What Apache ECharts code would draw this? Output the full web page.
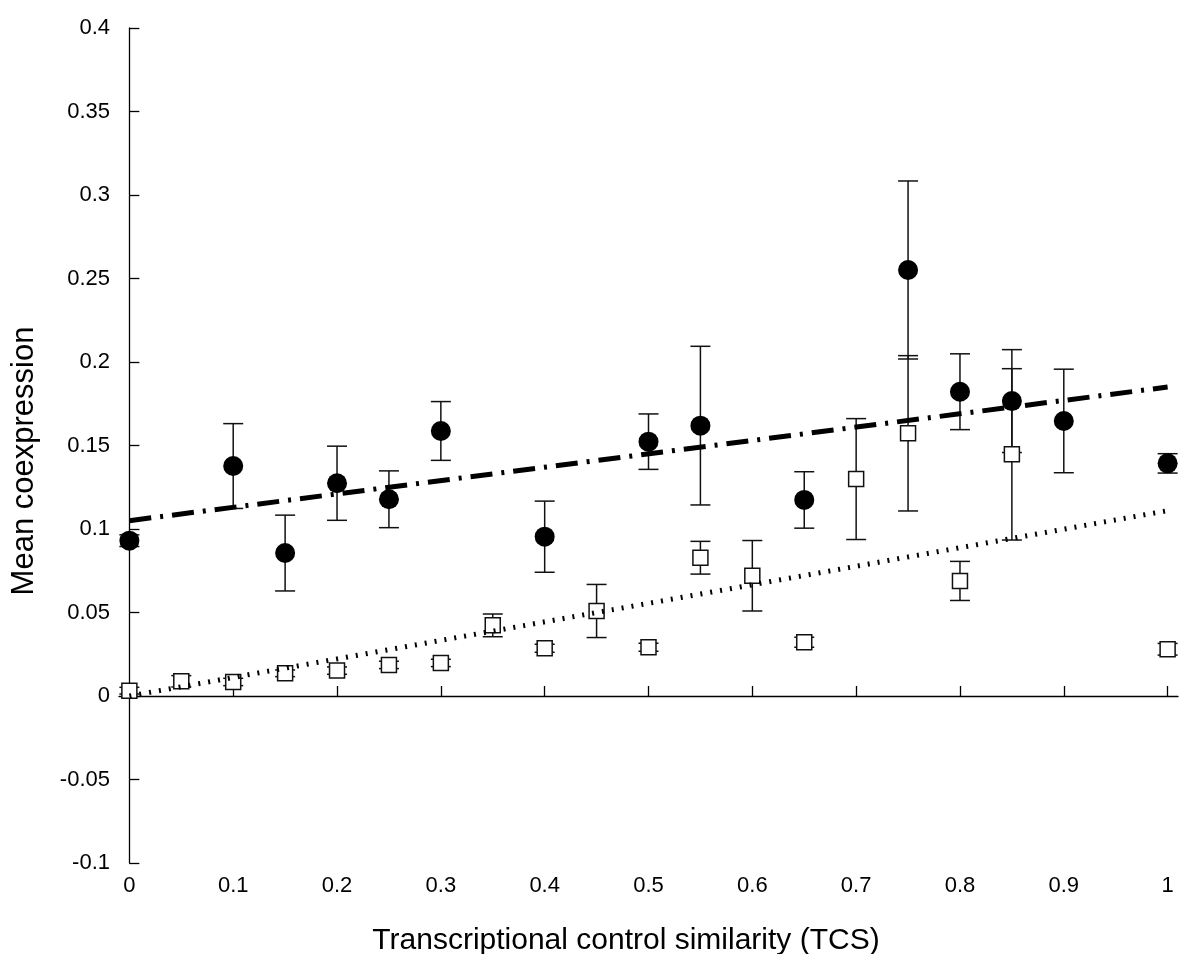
<!DOCTYPE html>
<html><head><meta charset="utf-8">
<script src="https://cdn.jsdelivr.net/npm/echarts@6/dist/echarts.min.js"></script>
<style>html,body{margin:0;padding:0;background:#fff}#c{width:1200px;height:954px}</style>
</head><body><div id="c"></div>
<script>
// ---- data ----
const xTickValues = [0, 0.1, 0.2, 0.3, 0.4, 0.5, 0.6, 0.7, 0.8, 0.9, 1];

const circleX   = [0, 0.1, 0.15, 0.2, 0.25, 0.3, 0.4, 0.5, 0.55, 0.65, 0.75, 0.8, 0.85, 0.9, 1.0];
const circleY   = [0.093, 0.1377, 0.0856, 0.1274, 0.1178, 0.1587, 0.0954, 0.1523, 0.1619, 0.1174, 0.2551, 0.1822, 0.1766, 0.1647, 0.1393];
const circleErr = [0.0035, 0.0254, 0.0227, 0.0222, 0.017, 0.0176, 0.0213, 0.0166, 0.0475, 0.0169, 0.0533, 0.0227, 0.0308, 0.031, 0.0058];

const squareX   = [0, 0.05, 0.1, 0.15, 0.2, 0.25, 0.3, 0.35, 0.4, 0.45, 0.5, 0.55, 0.6, 0.65, 0.7, 0.75, 0.8, 0.85, 1.0];
const squareY   = [0.0032, 0.0088, 0.0084, 0.0136, 0.0152, 0.0186, 0.0198, 0.0423, 0.0286, 0.0509, 0.0292, 0.0828, 0.072, 0.0322, 0.1299, 0.1573, 0.0689, 0.1447, 0.028];
const squareErr = [0.002, 0.0034, 0.0022, 0.002, 0.0022, 0.0022, 0.0022, 0.0068, 0.0024, 0.0159, 0.0024, 0.0098, 0.0211, 0.003, 0.0362, 0.0465, 0.0117, 0.0513, 0.0035];

const fitCircleX = [0, 1];
const fitCircleY = [0.105, 0.185];
const fitSquareX = [0, 1];
const fitSquareY = [0.0, 0.111];

const xTitle = 'Transcriptional control similarity (TCS)';
const yTitle = 'Mean coexpression';

// ---- chart ----
const FONT = '"Liberation Sans", Arial, Helvetica, sans-serif';
const chart = echarts.init(document.getElementById('c'), null, {renderer: 'canvas'});

function errRender(capHalf) {
  return function (params, api) {
    const x = api.value(0), lo = api.value(1), hi = api.value(2);
    const a = api.coord([x, lo]), b = api.coord([x, hi]);
    const st = {stroke: '#111', lineWidth: 1.5, fill: null};
    return {type: 'group', children: [
      {type: 'line', shape: {x1: a[0], y1: a[1], x2: b[0], y2: b[1]}, style: st},
      {type: 'line', shape: {x1: a[0] - capHalf, y1: a[1], x2: a[0] + capHalf, y2: a[1]}, style: st},
      {type: 'line', shape: {x1: b[0] - capHalf, y1: b[1], x2: b[0] + capHalf, y2: b[1]}, style: st}
    ]};
  };
}

const circleErrData = circleX.map((x, i) => [x, circleY[i] - circleErr[i], circleY[i] + circleErr[i]]);
const squareErrData = squareX.map((x, i) => [x, squareY[i] - squareErr[i], squareY[i] + squareErr[i]]);

function fmt(v) { return String(parseFloat(Number(v).toFixed(3))); }

chart.setOption({
  animation: false,
  backgroundColor: '#fff',
  grid: {left: 119, right: 22, top: 28, bottom: 91, containLabel: false},
  xAxis: {
    type: 'value', min: -0.01, max: 1.01,
    axisLine: {show: true, lineStyle: {color: '#000', width: 1.3}},
    axisTick: {show: true, inside: true, length: 10, customValues: xTickValues, lineStyle: {color: '#000', width: 1.3}},
    axisLabel: {customValues: xTickValues, formatter: fmt, margin: 12, fontSize: 22, color: '#000', fontFamily: FONT},
    splitLine: {show: false}
  },
  yAxis: {
    type: 'value', min: -0.1, max: 0.4, interval: 0.05,
    axisLine: {show: true, lineStyle: {color: '#000', width: 1.3}},
    axisTick: {show: true, inside: true, length: 10, lineStyle: {color: '#000', width: 1.3}},
    axisLabel: {formatter: fmt, margin: 9, fontSize: 22, color: '#000', fontFamily: FONT},
    splitLine: {show: false}
  },
  graphic: [
    {type: 'text', x: 626, y: 941, z: 10,
     style: {text: xTitle, font: '30px ' + FONT, fill: '#000', align: 'center', verticalAlign: 'middle'}},
    {type: 'text', x: 24, y: 461, rotation: Math.PI / 2, z: 10,
     style: {text: yTitle, font: '31px ' + FONT, fill: '#000', align: 'center', verticalAlign: 'middle'}}
  ],
  series: [
    {type: 'custom', name: 'circleErr', z: 1, renderItem: errRender(10), data: circleErrData, encode: {x: 0, y: [1, 2]}, clip: false},
    {type: 'custom', name: 'squareErr', z: 1, renderItem: errRender(10), data: squareErrData, encode: {x: 0, y: [1, 2]}, clip: false},
    {type: 'scatter', name: 'circles', z: 2, symbol: 'circle', symbolSize: 20,
     itemStyle: {color: '#000', opacity: 1}, data: circleX.map((x, i) => [x, circleY[i]])},
    {type: 'scatter', name: 'squares', z: 2, symbol: 'rect', symbolSize: 15,
     itemStyle: {color: '#fff', borderColor: '#111', borderWidth: 1.5, opacity: 1}, data: squareX.map((x, i) => [x, squareY[i]])},
    {type: 'line', name: 'fitCircles', z: 3, symbol: 'none', silent: true,
     lineStyle: {color: '#000', width: 5, type: [22, 9, 3, 9], cap: 'butt'},
     data: fitCircleX.map((x, i) => [x, fitCircleY[i]])},
    {type: 'line', name: 'fitSquares', z: 3, symbol: 'none', silent: true,
     lineStyle: {color: '#000', width: 5, type: [2, 8], cap: 'butt'},
     data: fitSquareX.map((x, i) => [x, fitSquareY[i]])}
  ]
});
</script>
</body></html>
